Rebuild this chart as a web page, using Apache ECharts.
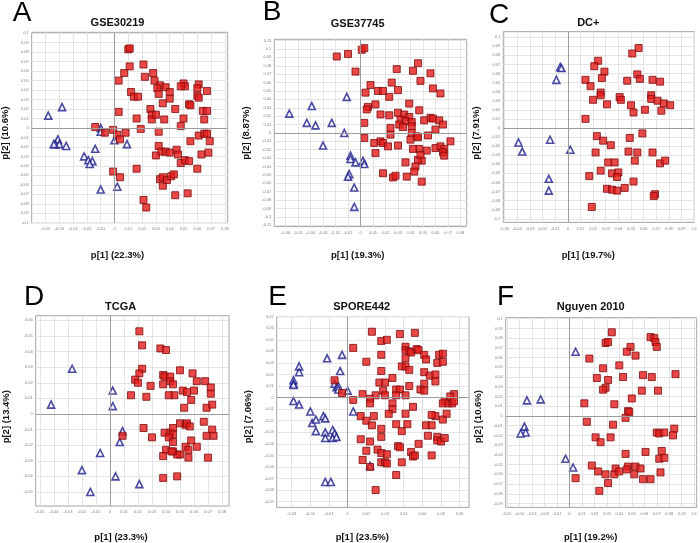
<!DOCTYPE html>
<html><head><meta charset="utf-8">
<script src="https://cdn.jsdelivr.net/npm/echarts@6/dist/echarts.min.js"></script>
<style>html,body{margin:0;padding:0;background:#fff}#c{width:700px;height:543px}</style>
</head><body><div id="c"></div>
<script>
const titles = ['GSE30219','GSE37745','DC+','TCGA','SPORE442','Nguyen 2010'];
const letters = ['A','B','C','D','E','F'];
const xNames = ['p[1] (22.3%)','p[1] (19.3%)','p[1] (19.7%)','p[1] (23.3%)','p[1] (23.5%)','p[1] (19.2%)'];
const yNames = ['p[2] (10.6%)','p[2] (8.87%)','p[2] (7.91%)','p[2] (13.4%)','p[2] (7.06%)','p[2] (10.6%)'];

const redA = [[0.010,0.083],[0.011,0.084],[0.021,0.067],[0.011,0.065],[0.007,0.058],[0.003,0.050],[0.022,0.054],[0.028,0.058],[0.029,0.050],[0.033,0.045],[0.037,0.043],[0.031,0.042],[0.040,0.038],[0.050,0.047],[0.051,0.044],[0.048,0.044],[0.061,0.046],[0.060,0.042],[0.067,0.039],[0.012,0.038],[0.014,0.033],[0.017,0.033],[0.032,0.036],[0.040,0.031],[0.035,0.026],[0.060,0.034],[0.061,0.032],[0.054,0.025],[0.055,0.024],[0.044,0.020],[0.026,0.020],[0.027,0.014],[0.027,0.009],[0.030,0.014],[0.003,0.017],[0.016,0.010],[0.036,0.009],[0.050,0.010],[0.064,0.018],[0.067,0.018],[0.065,0.009],[0.048,0.002],[0.019,-0.001],[0.032,-0.004],[-0.014,0.001],[-0.007,-0.005],[-0.001,-0.002],[0.002,-0.007],[0.004,-0.012],[0.008,-0.005],[0.055,-0.014],[0.061,-0.008],[0.065,-0.006],[0.067,-0.006],[0.069,-0.014],[0.032,-0.019],[0.030,-0.029],[0.034,-0.025],[0.037,-0.025],[0.040,-0.026],[0.045,-0.023],[0.046,-0.028],[0.048,-0.037],[0.051,-0.034],[0.054,-0.035],[0.063,-0.028],[0.068,-0.026],[0.060,-0.043],[0.016,-0.043],[-0.001,-0.046],[0.004,-0.052],[0.033,-0.054],[0.035,-0.052],[0.035,-0.061],[0.038,-0.055],[0.041,-0.051],[0.043,-0.049],[0.044,-0.071],[0.053,-0.069],[0.021,-0.076],[0.023,-0.084]];
const blueA = [[-0.048,0.013],[-0.038,0.022],[-0.041,-0.012],[-0.043,-0.017],[-0.040,-0.017],[-0.044,-0.017],[-0.035,-0.019],[-0.022,-0.030],[-0.019,-0.034],[-0.016,-0.035],[-0.018,-0.038],[-0.014,-0.022],[-0.010,0.000],[-0.010,-0.004],[0.000,-0.013],[0.009,-0.017],[-0.010,-0.065],[0.002,-0.062]];

const redB = [[-0.019,0.091],[-0.010,0.094],[0.001,0.099],[0.003,0.101],[-0.004,0.073],[0.046,0.083],[0.029,0.076],[0.042,0.074],[0.056,0.071],[0.048,0.062],[0.008,0.057],[0.025,0.060],[0.058,0.053],[0.064,0.047],[0.004,0.048],[0.014,0.050],[0.018,0.050],[0.023,0.043],[0.030,0.051],[0.006,0.031],[0.005,0.028],[0.012,0.034],[0.039,0.035],[0.047,0.027],[0.030,0.024],[0.035,0.022],[0.016,0.022],[0.023,0.021],[0.039,0.019],[0.056,0.018],[0.058,0.017],[0.063,0.015],[0.066,0.010],[0.060,0.004],[0.051,0.015],[0.032,0.016],[0.036,0.014],[0.041,0.013],[0.031,0.010],[0.034,0.007],[0.041,0.008],[0.003,0.012],[0.024,0.006],[0.024,-0.002],[0.041,0.000],[0.045,-0.004],[0.046,-0.005],[0.054,-0.003],[0.003,-0.006],[0.011,-0.012],[0.016,-0.010],[0.018,-0.012],[0.022,-0.016],[0.030,-0.015],[0.040,-0.008],[0.072,-0.010],[0.060,-0.018],[0.064,-0.016],[0.067,-0.019],[0.066,-0.023],[0.067,-0.027],[0.053,-0.021],[0.047,-0.019],[0.042,-0.019],[0.012,-0.024],[0.049,-0.033],[0.046,-0.032],[0.048,-0.026],[0.036,-0.035],[0.044,-0.040],[0.043,-0.046],[0.018,-0.048],[0.026,-0.053],[0.028,-0.051],[0.037,-0.052],[0.049,-0.058]];
const blueB = [[-0.057,0.023],[-0.039,0.032],[-0.043,0.012],[-0.036,0.009],[-0.023,0.012],[-0.030,-0.015],[-0.013,0.000],[-0.011,0.043],[-0.008,-0.027],[-0.008,-0.031],[-0.004,-0.035],[0.002,-0.033],[0.003,-0.037],[-0.009,-0.049],[-0.010,-0.052],[-0.005,-0.065],[-0.005,-0.088]];

const redC = [[0.056,0.088],[0.051,0.082],[0.024,0.074],[0.021,0.068],[0.029,0.062],[0.027,0.055],[0.014,0.053],[0.055,0.059],[0.057,0.054],[0.047,0.052],[0.067,0.053],[0.073,0.051],[0.018,0.046],[0.026,0.039],[0.026,0.036],[0.020,0.031],[0.031,0.026],[0.041,0.034],[0.042,0.031],[0.050,0.025],[0.052,0.017],[0.061,0.020],[0.066,0.036],[0.066,0.032],[0.071,0.030],[0.076,0.027],[0.081,0.025],[0.074,0.019],[0.014,0.010],[0.023,-0.009],[0.028,-0.014],[0.034,-0.019],[0.022,-0.027],[0.049,-0.011],[0.059,-0.006],[0.048,-0.026],[0.055,-0.027],[0.053,-0.036],[0.067,-0.027],[0.073,-0.039],[0.077,-0.036],[0.032,-0.038],[0.037,-0.038],[0.026,-0.047],[0.035,-0.050],[0.040,-0.049],[0.039,-0.054],[0.017,-0.053],[0.052,-0.059],[0.031,-0.067],[0.035,-0.068],[0.039,-0.069],[0.045,-0.066],[0.069,-0.073],[0.068,-0.075],[0.019,-0.087]];
const blueC = [[-0.006,0.067],[-0.005,0.066],[-0.009,0.053],[-0.039,-0.016],[-0.036,-0.026],[-0.014,-0.013],[0.002,-0.024],[-0.015,-0.056],[-0.015,-0.069]];

const redD = [[0.021,0.053],[0.023,0.044],[0.036,0.042],[0.040,0.041],[0.023,0.029],[0.021,0.026],[0.018,0.022],[0.020,0.020],[0.029,0.018],[0.015,0.012],[0.026,0.011],[0.038,0.025],[0.039,0.024],[0.043,0.024],[0.043,0.021],[0.045,0.019],[0.038,0.019],[0.050,0.028],[0.059,0.026],[0.062,0.021],[0.068,0.021],[0.072,0.017],[0.072,0.013],[0.060,0.015],[0.052,0.015],[0.055,0.014],[0.046,0.012],[0.042,0.012],[0.058,0.009],[0.053,0.004],[0.069,0.004],[0.073,0.006],[0.024,-0.009],[0.030,-0.015],[0.039,-0.012],[0.043,-0.012],[0.045,-0.009],[0.045,-0.013],[0.042,-0.015],[0.045,-0.018],[0.050,-0.006],[0.054,-0.007],[0.055,-0.006],[0.057,-0.008],[0.067,-0.005],[0.073,-0.010],[0.069,-0.014],[0.074,-0.014],[0.058,-0.017],[0.062,-0.021],[0.054,-0.021],[0.056,-0.023],[0.056,-0.028],[0.050,-0.026],[0.048,-0.026],[0.045,-0.024],[0.040,-0.023],[0.038,-0.027],[0.044,-0.024],[0.070,-0.028],[0.038,-0.041],[0.048,-0.040],[0.009,-0.014]];
const blueD = [[-0.027,0.029],[-0.042,0.006],[0.002,0.015],[0.002,0.005],[0.009,-0.011],[0.007,-0.018],[-0.007,-0.025],[-0.020,-0.036],[-0.014,-0.050],[0.004,-0.040],[0.021,-0.045]];

const redE = [[0.013,0.057],[0.028,0.055],[0.036,0.056],[0.018,0.049],[0.021,0.050],[0.031,0.044],[0.031,0.041],[0.033,0.040],[0.034,0.039],[0.037,0.042],[0.038,0.041],[0.041,0.037],[0.042,0.033],[0.049,0.037],[0.048,0.030],[0.051,0.031],[0.051,0.038],[0.003,0.043],[0.018,0.037],[0.031,0.034],[0.010,0.031],[0.029,0.027],[0.031,0.027],[0.033,0.024],[0.041,0.022],[0.044,0.019],[0.047,0.020],[0.047,0.014],[0.018,0.023],[0.024,0.017],[-0.007,0.015],[-0.003,0.004],[0.017,0.013],[0.020,0.013],[0.019,0.006],[0.026,0.007],[0.028,0.007],[0.033,0.010],[0.041,0.012],[0.039,0.007],[0.041,0.006],[0.008,0.003],[0.015,0.002],[0.020,0.002],[0.012,-0.001],[0.012,-0.005],[0.003,-0.002],[0.026,0.002],[0.031,0.002],[0.024,-0.005],[0.024,-0.010],[0.022,-0.014],[0.035,-0.008],[0.031,-0.014],[0.052,-0.003],[0.051,-0.005],[0.054,-0.005],[0.056,-0.005],[0.057,0.003],[0.055,0.001],[0.057,-0.003],[0.007,-0.016],[0.010,-0.020],[0.014,-0.016],[0.013,-0.024],[0.018,-0.027],[0.018,-0.034],[0.026,-0.023],[0.029,-0.029],[0.032,-0.023],[0.042,-0.024],[0.045,-0.024],[0.047,-0.016],[0.045,-0.015],[0.051,-0.019],[0.053,-0.014],[0.007,-0.036],[0.012,-0.038],[0.010,-0.046],[0.008,-0.054],[0.016,-0.045],[0.018,-0.048],[0.021,-0.049],[0.018,-0.056],[0.020,-0.056],[0.021,-0.057],[0.012,-0.060],[0.015,-0.080],[0.027,-0.042],[0.028,-0.043],[0.038,-0.040],[0.043,-0.033],[0.048,-0.034],[0.048,-0.037],[0.050,-0.038],[0.052,-0.035],[0.034,-0.047],[0.035,-0.051],[0.036,-0.050],[0.045,-0.050],[0.029,-0.056],[0.026,-0.067]];
const blueE = [[-0.011,0.034],[-0.003,0.037],[-0.004,0.023],[-0.026,0.027],[-0.026,0.022],[-0.029,0.015],[-0.029,0.012],[-0.029,0.011],[-0.029,-0.003],[-0.026,-0.006],[-0.020,-0.012],[-0.019,-0.022],[-0.017,-0.019],[-0.017,-0.029],[-0.013,-0.016],[-0.012,-0.018],[-0.012,-0.030],[-0.012,-0.035],[-0.008,-0.028],[-0.007,-0.031],[-0.008,-0.035],[-0.006,-0.034],[-0.007,0.012],[-0.006,0.009],[-0.005,0.010],[-0.005,0.007],[0.000,0.006],[0.003,-0.012],[-0.012,-0.073],[-0.009,-0.073],[0.012,-0.059]];

const redF = [[0.034,0.086],[0.029,0.075],[0.031,0.076],[0.065,0.081],[0.068,0.080],[0.069,0.076],[0.070,0.071],[0.049,0.071],[0.046,0.066],[0.053,0.062],[0.016,0.059],[0.027,0.049],[0.040,0.052],[0.022,0.039],[0.043,0.040],[0.031,0.037],[0.059,0.042],[0.066,0.040],[0.085,0.043],[0.029,0.029],[0.027,0.027],[0.050,0.018],[0.058,0.026],[0.071,0.026],[0.012,0.013],[0.036,0.012],[0.047,0.005],[0.048,0.004],[0.045,-0.002],[0.014,-0.006],[0.035,-0.009],[0.021,-0.022],[0.033,-0.022],[0.025,-0.027],[0.070,-0.017],[0.072,-0.018],[0.076,-0.017],[0.084,-0.013],[0.083,-0.020],[0.045,-0.039],[0.061,-0.037],[0.074,-0.036],[0.072,-0.044],[0.076,-0.043],[0.073,-0.058],[0.018,-0.051],[0.023,-0.057],[0.029,-0.060],[0.037,-0.054],[0.036,-0.060],[0.040,-0.057],[0.047,-0.052],[0.046,-0.055],[0.052,-0.060],[0.053,-0.052],[0.057,-0.054],[0.059,-0.065],[0.065,-0.065],[0.031,-0.069],[0.024,-0.077],[0.005,-0.064]];
const blueF = [[0.005,0.066],[-0.034,0.016],[-0.023,0.017],[-0.036,-0.011],[-0.035,-0.017],[-0.039,-0.018],[-0.003,-0.044],[0.003,-0.053]];

function ticks(lo, hi) { const r = []; for (let i = lo; i <= hi; i++) r.push(+(i * 0.01).toFixed(2)); return r; }
const xTicks = [ticks(-5,8), ticks(-6,8), ticks(-5,10), ticks(-5,8), ticks(-3,6), ticks(-5,10)];
const yTicks = [ticks(-10,10), ticks(-11,11), ticks(-10,10), ticks(-5,6), ticks(-9,7), ticks(-9,10)];

const reds = [redA, redB, redC, redD, redE, redF];
const blues = [blueA, blueB, blueC, blueD, blueE, blueF];

const layout = [
 {box:[31.7,32.3,196,190.4], x:[-0.06,0.082], y:[-0.1,0.101], letter:[22,13], title:[117.5,23], xn:[117.5,255], yn:[5.7,133]},
 {box:[274.3,39.3,192.4,187.3], x:[-0.069,0.085], y:[-0.1115,0.1115], letter:[272,12.5], title:[357.7,24], xn:[357.7,255], yn:[246.7,133]},
 {box:[503.3,31.7,202.7,190.7], x:[-0.051,0.10], y:[-0.104,0.106], letter:[499,15], title:[588.3,23], xn:[588.3,255], yn:[476.7,133]},
 {box:[35.7,315.7,193.3,190.3], x:[-0.053,0.085], y:[-0.059,0.063], letter:[34,297], title:[120.7,307], xn:[121,537.7], yn:[6.7,416.7]},
 {box:[276.7,316.7,192.3,190.7], x:[-0.038,0.065], y:[-0.095,0.070], letter:[277.5,297.5], title:[361.7,307.3], xn:[362.3,537.7], yn:[248.3,416.7]},
 {box:[505.7,317.7,200.3,189.7], x:[-0.051,0.102], y:[-0.094,0.101], letter:[505.5,297.5], title:[590.7,307.3], xn:[590.7,537.7], yn:[478.3,416.7]}
];

const FONT = '"Liberation Sans", Arial, sans-serif';
const fmt = v => (Math.abs(v) < 1e-9 ? '0' : String(+v.toFixed(2)));

const grid = layout.map(L => ({left:L.box[0], top:L.box[1], width:L.box[2], height:L.box[3], show:true, borderColor:'#a3a3a3', borderWidth:1, containLabel:false}));
const xAxis = layout.map((L,i) => ({
  gridIndex:i, type:'value', min:L.x[0], max:L.x[1],
  axisLine:{show:false, onZero:false},
  axisTick:{show:false, customValues:xTicks[i]},
  axisLabel:{customValues:xTicks[i], fontSize:4, color:'#808080', margin:4, fontFamily:FONT, formatter:fmt},
  splitLine:{show:true, lineStyle:{color:'#e4e4e4', width:1}}
}));
const yAxis = layout.map((L,i) => ({
  gridIndex:i, type:'value', min:L.y[0], max:L.y[1],
  axisLine:{show:false, onZero:false},
  axisTick:{show:false, customValues:yTicks[i]},
  axisLabel:{customValues:yTicks[i], fontSize:4, color:'#808080', margin:3, fontFamily:FONT, formatter:fmt},
  splitLine:{show:true, lineStyle:{color:'#e4e4e4', width:1}}
}));

const series = [];
layout.forEach((L,i) => {
  series.push({
    type:'scatter', xAxisIndex:i, yAxisIndex:i, data:blues[i], symbol:'triangle', symbolSize:7,
    itemStyle:{color:'#ffffff', borderColor:'#1d1d8c', borderWidth:1.6},
    markLine:{silent:true, symbol:'none', animation:false, label:{show:false},
      lineStyle:{color:'#9c9c9c', type:'solid', width:1}, emphasis:{disabled:true},
      data:[{xAxis:0},{yAxis:0}]}
  });
  series.push({
    type:'scatter', xAxisIndex:i, yAxisIndex:i, data:reds[i], symbol:'rect', symbolSize:7,
    itemStyle:{color:'#e31b1b', borderColor:'#7e0c0c', borderWidth:1}
  });
});

const graphic = [];
layout.forEach((L,i) => {
  graphic.push({type:'text', x:L.letter[0], y:L.letter[1], style:{text:letters[i], font:'28px ' + FONT, fill:'#000', align:'center', verticalAlign:'middle'}});
  graphic.push({type:'text', x:L.title[0], y:L.title[1], style:{text:titles[i], font:'bold 11px ' + FONT, fill:'#111', align:'center', verticalAlign:'middle'}});
  graphic.push({type:'text', x:L.xn[0], y:L.xn[1], style:{text:xNames[i], font:'bold 9.5px ' + FONT, fill:'#111', align:'center', verticalAlign:'middle'}});
  graphic.push({type:'text', x:L.yn[0], y:L.yn[1], rotation:Math.PI/2, style:{text:yNames[i], font:'bold 9.5px ' + FONT, fill:'#111', align:'center', verticalAlign:'middle'}});
});

const chart = echarts.init(document.getElementById('c'), null, {renderer:'canvas'});
chart.setOption({animation:false, backgroundColor:'#ffffff', grid, xAxis, yAxis, series, graphic});
</script>
</body></html>
